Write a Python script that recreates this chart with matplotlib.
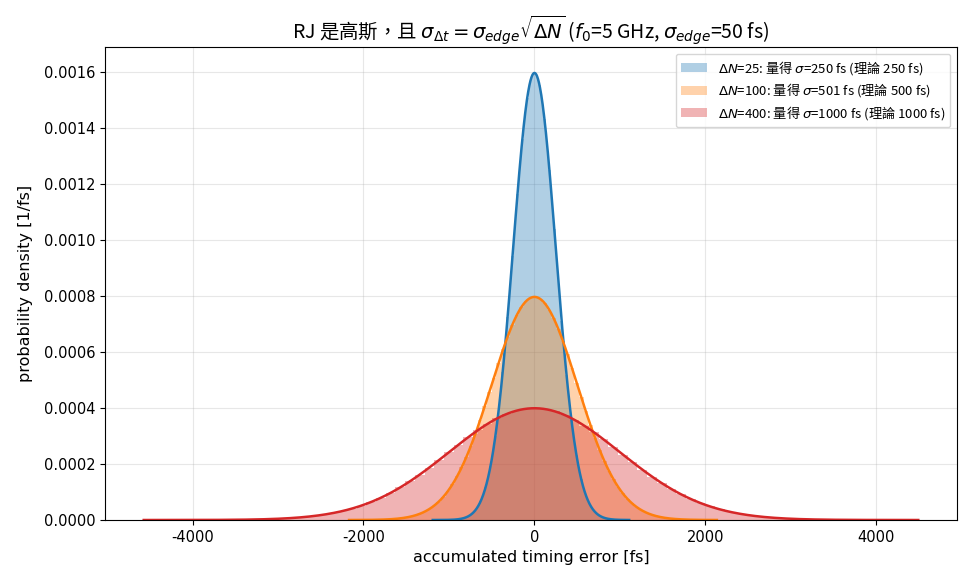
import numpy as np
import matplotlib
matplotlib.use("Agg")
import matplotlib.pyplot as plt
from matplotlib.font_manager import FontProperties

plt.rcParams['font.family'] = ['DejaVu Sans', 'Noto Sans CJK TC']
plt.rcParams['axes.unicode_minus'] = False

# data
delta_n = [25, 100, 400]
sigma_meas = [250, 501, 1000]
sigma_theory = [250, 500, 1000]
sample_min = [-1190, -2169, -4571]
sample_max = [1108, 2134, 4490]
colors = ['tab:blue', 'tab:orange', 'tab:red']
n_bins = 80

fig = plt.figure(figsize=(9.68, 5.84), dpi=100)
ax = fig.add_axes([105/968, 1 - 520/584, (957-105)/968, (520-47)/584])

def pdf(x, s):
    return np.exp(-0.5 * (x / s) ** 2) / (s * np.sqrt(2 * np.pi))

# expected-histogram fills
for dn, sm, st, lo, hi, c in zip(delta_n, sigma_meas, sigma_theory, sample_min, sample_max, colors):
    edges = np.linspace(lo, hi, n_bins + 1)
    centers = 0.5 * (edges[:-1] + edges[1:])
    dens = pdf(centers, sm)
    ax.stairs(dens, edges, fill=True, color=c, alpha=0.35, linewidth=0,
              label=rf"$\Delta N$={dn}: 量得 $\sigma$={sm} fs (理論 {st} fs)")

for sm, lo, hi, c in zip(sigma_meas, sample_min, sample_max, colors):
    x = np.linspace(lo, hi, 600)
    ax.plot(x, pdf(x, sm), color=c, linewidth=1.8)

ax.margins(x=0.05)
ax.set_ylim(0, 0.001608 * 1.05)
ax.grid(True, alpha=0.3)
ax.set_axisbelow(True)
ax.set_xlabel("accumulated timing error [fs]", fontsize=11.5)
ax.set_ylabel("probability density [1/fs]", fontsize=11.5, labelpad=8)
cjk_title = FontProperties(family=['Noto Sans CJK TC', 'DejaVu Sans'], size=14)
ax.set_title(r"RJ 是高斯，且 $\sigma_{\Delta t}=\sigma_{edge}\sqrt{\Delta N}$ ($f_0$=5 GHz, $\sigma_{edge}$=50 fs)",
             fontproperties=cjk_title, pad=6)
ax.tick_params(labelsize=10.5)
cjk_leg = FontProperties(family=['Noto Sans CJK TC', 'DejaVu Sans'], size=9.5)
ax.legend(loc='upper right', prop=cjk_leg, labelspacing=0.35)

fig.savefig("out.png", dpi=100)
